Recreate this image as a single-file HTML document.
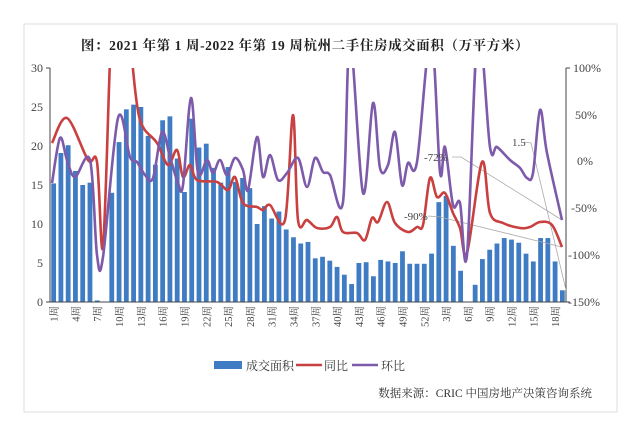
<!DOCTYPE html>
<html><head><meta charset="utf-8"><style>
body{margin:0;background:#fff;width:640px;height:426px;overflow:hidden;font-family:"Liberation Serif","Noto Serif CJK SC",serif}
</style></head><body>
<svg width="640" height="426" xmlns="http://www.w3.org/2000/svg" font-family="Liberation Serif, Noto Serif CJK SC, serif">
<defs><clipPath id="cp"><rect x="50" y="68" width="516" height="240"/></clipPath></defs>
<rect x="24" y="24" width="593" height="388" fill="none" stroke="#ddd" stroke-width="1"/>
<text x="305" y="50" text-anchor="middle" font-size="13.5" font-weight="bold" fill="#222" letter-spacing="0.6">图：2021 年第 1 周-2022 年第 19 周杭州二手住房成交面积（万平方米）</text>
<g id="bars" fill="#3f7cc4"></g>
<g font-size="12" fill="#444" text-anchor="end">
<text x="43" y="72">30</text><text x="43" y="111">25</text><text x="43" y="150">20</text><text x="43" y="189">15</text><text x="43" y="228">10</text><text x="43" y="267">5</text><text x="43" y="306">0</text>
</g>
<g font-size="12" fill="#444">
<text x="573" y="72">100%</text><text x="575" y="119">50%</text><text x="577" y="165">0%</text><text x="571" y="212">-50%</text><text x="568" y="259">-100%</text><text x="568" y="306">-150%</text>
</g>
<g stroke="#444" stroke-width="1">
<line x1="50" y1="68" x2="50" y2="302"/><line x1="50" y1="302" x2="566" y2="302"/><line x1="566" y1="68" x2="566" y2="302"/>
<line x1="46" y1="68" x2="50" y2="68"/><line x1="46" y1="302" x2="50" y2="302"/>
<line x1="566" y1="68" x2="570" y2="68"/><line x1="566" y1="302" x2="570" y2="302"/>
</g>
<g stroke="#aaa" stroke-width="0.8" fill="none">
<polyline points="524,142 531,143 566,290"/>
<polyline points="452,157 461,157 562,220"/>
<polyline points="428,216 440,217 562,247"/>
</g>
<g clip-path="url(#cp)">
<path id="red" fill="none" stroke="#c94040" stroke-width="2.6" stroke-linejoin="round"/>
<path id="pur" fill="none" stroke="#7d5aaa" stroke-width="2.6" stroke-linejoin="round"/>
</g>
<g font-size="11" fill="#444">
<text x="512" y="146">1.5</text><text x="424" y="161">-72%</text><text x="404" y="220">-90%</text>
</g>
<g id="xl" font-size="10.5" fill="#444"></g>
<rect x="214" y="361" width="28" height="8" fill="#3f7cc4"/>
<text x="246" y="370" font-size="12" fill="#333">成交面积</text>
<line x1="296" y1="365" x2="322" y2="365" stroke="#c94040" stroke-width="2.5"/>
<text x="324" y="370" font-size="12" fill="#333">同比</text>
<line x1="352" y1="365" x2="378" y2="365" stroke="#7d5aaa" stroke-width="2.5"/>
<text x="381" y="370" font-size="12" fill="#333">环比</text>
<text x="592" y="397" font-size="11.5" fill="#333" text-anchor="end">数据来源：CRIC 中国房地产决策咨询系统</text>
</svg>
<script>
var v=[15.2,19.1,20.1,16.8,15,15.3,0.2,0,14,20.5,24.7,25.3,25,21.3,17.6,23.3,23.8,18.4,14.1,23.5,19.8,20.3,17.2,15.3,17.3,15.4,15.9,14.6,10,12.3,10.7,11.6,9.3,8.3,7.5,7.7,5.6,5.8,5.3,4.5,3.5,2.3,5,5.1,3.3,5.4,5.2,5,6.5,4.9,4.9,4.9,6.2,12.8,13.6,7.2,4,0,2.2,5.5,6.7,7.5,8.2,8,7.6,6.2,5.2,8.2,8.2,5.2,1.5];
var ns="http://www.w3.org/2000/svg",g=document.getElementById('bars'),xl=document.getElementById('xl');
var labs=[];for(var i=1;i<=52;i++)labs.push(i);for(var i=1;i<=19;i++)labs.push(i);
for(var i=0;i<v.length;i++){var cx=50+(i+0.5)*516/71;var h=v[i]*7.8;
var r=document.createElementNS(ns,'rect');r.setAttribute('x',cx-2.4);r.setAttribute('width',4.8);r.setAttribute('y',302-h);r.setAttribute('height',h);g.appendChild(r);
if(i%3==0){var t=document.createElementNS(ns,'text');t.setAttribute('transform','translate('+(cx+4)+',306) rotate(-90)');t.setAttribute('text-anchor','end');t.textContent=labs[i]+'周';xl.appendChild(t);}}
function sm(s){var p=s.trim().split(/\s+/).map(function(a){return a.split(',').map(Number)});
var d='M'+p[0][0]+','+p[0][1];
for(var i=0;i<p.length-1;i++){var p0=p[i-1]||p[i],p1=p[i],p2=p[i+1],p3=p[i+2]||p2;
var c1x=p1[0]+(p2[0]-p0[0])/6,c1y=p1[1]+(p2[1]-p0[1])/6,c2x=p2[0]-(p3[0]-p1[0])/6,c2y=p2[1]-(p3[1]-p1[1])/6;
d+=' C'+c1x+','+c1y+' '+c2x+','+c2y+' '+p2[0]+','+p2[1];}return d;}
document.getElementById('red').setAttribute('d',sm("52,143 67,118 88,160 97,162 103,247 110,60 113,20 128,20 132,60 140,120 157,143 168,165 177,150 183,177 190,165 197,180 217,182 228,190 235,177 243,203 257,207 263,210 270,205 285,220 293,115 298,220 307,220 317,228 330,227 337,217 343,232 357,233 365,240 372,218 378,222 387,202 395,223 408,232 417,227 423,225 430,178 437,197 445,193 453,213 460,228 467,253 482,162 490,213 503,223 520,228 530,227 540,222 552,225 562,247"));
document.getElementById('pur').setAttribute('d',sm("52,183 60,138 67,160 75,177 90,160 97,255 103,257 118,118 130,157 137,162 145,175 153,178 162,132 170,157 178,183 183,185 191,98 198,173 207,160 213,173 220,160 227,175 235,158 243,170 248,190 257,137 263,177 270,155 278,180 287,173 298,158 307,187 315,158 323,172 330,175 343,202 350,40 363,193 373,103 380,168 388,165 395,132 402,185 408,163 417,162 431,35 440,172 445,147 453,205 460,203 467,255 478,30 490,147 497,147 510,160 520,168 527,178 533,173 540,110 547,153 562,220"));
</script>
</body></html>
